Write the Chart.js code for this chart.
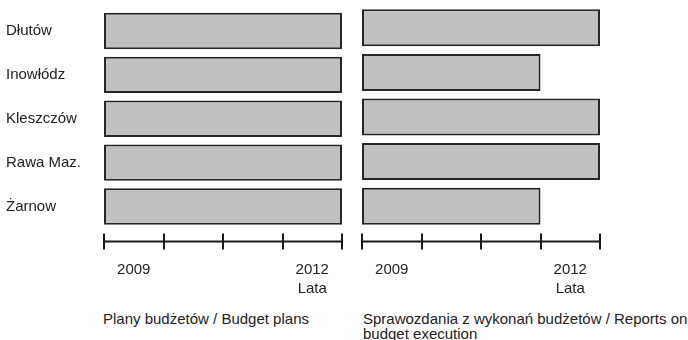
<!DOCTYPE html>
<html>
<head>
<meta charset="utf-8">
<script src="https://cdn.jsdelivr.net/npm/chart.js@4"></script>
<style>
  body { margin: 0; background: #fff; width: 688px; height: 340px; position: relative; overflow: hidden;
         font-family: "Liberation Sans", Arial, sans-serif; color: #222; }
  .box { position: absolute; top: 0; height: 300px; }
  #left { left: 0; width: 350px; }
  #right { left: 350px; width: 338px; }
  .caption { position: absolute; font-size: 15px; line-height: 15px; }
</style>
</head>
<body>
<div class="box" id="left"><canvas id="plans"></canvas></div>
<div class="box" id="right"><canvas id="reports"></canvas></div>
<div class="caption" style="left:103px; top:311px;">Plany budżetów / Budget plans</div>
<div class="caption" style="left:363px; top:311px;">Sprawozdania z wykonań budżetów / Reports on<br>budget execution</div>
<script>
const communes = ['Dłutów', 'Inowłódz', 'Kleszczów', 'Rawa Maz.', 'Żarnow'];
const firstYear = 2009;
const lastYear = 2012;
const shownYears = [2009, 2012];
const axisTitle = 'Lata';

// first and last year covered, per commune
const planStart = [2009, 2009, 2009, 2009, 2009];
const planEnd = [2012, 2012, 2012, 2012, 2012];
const reportStart = [2009, 2009, 2009, 2009, 2009];
const reportEnd = [2012, 2011, 2012, 2012, 2011];

const textColor = '#222222';
const fontSpec = { family: '"Liberation Sans", Arial, sans-serif', size: 15 };

// draws the year axis with tick marks crossing the line, plus the "Lata" label
const yearAxis = {
    id: 'yearAxis',
    afterDraw(chart) {
        const ctx = chart.ctx;
        const x = chart.scales.x;
        const y = chart.chartArea.bottom + 13;
        ctx.save();
        ctx.strokeStyle = '#1a1a1a';
        ctx.lineWidth = 2;
        ctx.beginPath();
        ctx.moveTo(x.getPixelForValue(firstYear), y);
        ctx.lineTo(x.getPixelForValue(lastYear + 1), y);
        for (let yr = firstYear; yr <= lastYear + 1; yr++) {
            const px = Math.round(x.getPixelForValue(yr));
            ctx.moveTo(px, y - 8);
            ctx.lineTo(px, y + 8);
        }
        ctx.stroke();
        ctx.fillStyle = textColor;
        ctx.font = '15px ' + fontSpec.family;
        ctx.textAlign = 'center';
        ctx.textBaseline = 'middle';
        ctx.fillText(axisTitle, x.getPixelForValue(lastYear + 0.5), y + 47);
        ctx.restore();
    }
};

function makeChart(id, starts, ends, showLabels, yWidth, pad) {
    const ctx = document.getElementById(id).getContext('2d');
    return new Chart(ctx, {
        type: 'bar',
        data: {
            labels: communes,
            datasets: [{
                data: starts.map((s, i) => [s, ends[i] + 1]),
                backgroundColor: '#c0c0c0',
                borderColor: '#262626',
                borderWidth: 2,
                borderSkipped: false,
                categoryPercentage: 1,
                barPercentage: 0.83
            }]
        },
        options: {
            indexAxis: 'y',
            responsive: true,
            maintainAspectRatio: false,
            animation: false,
            layout: { padding: pad },
            plugins: { legend: { display: false }, tooltip: { enabled: false } },
            scales: {
                x: {
                    type: 'linear',
                    min: firstYear,
                    max: lastYear + 1,
                    afterBuildTicks: (scale) => {
                        scale.ticks = shownYears.map(v => ({ value: v + 0.5 }));
                    },
                    afterFit: (scale) => { scale.height = 300 - 228.5; },
                    grid: { display: true, drawOnChartArea: false, drawTicks: true, tickLength: 30, tickColor: 'rgba(0,0,0,0)' },
                    border: { display: false },
                    ticks: {
                        color: textColor,
                        font: fontSpec,
                        padding: 2,
                        maxRotation: 0,
                        autoSkip: false,
                        callback: (v) => String(Math.floor(v))
                    }
                },
                y: {
                    display: showLabels,
                    afterFit: (scale) => { scale.width = yWidth; },
                    grid: { display: false },
                    border: { display: false },
                    ticks: {
                        color: textColor,
                        font: fontSpec,
                        crossAlign: 'far',
                        padding: 0
                    }
                }
            }
        },
        plugins: [yearAxis]
    });
}

makeChart('plans', planStart, planEnd, true, 98, { left: 6, right: 8, top: 5.5, bottom: 0 });
makeChart('reports', reportStart, reportEnd, false, 0, { left: 12, right: 88, top: 5.5, bottom: 0 });
</script>
</body>
</html>
